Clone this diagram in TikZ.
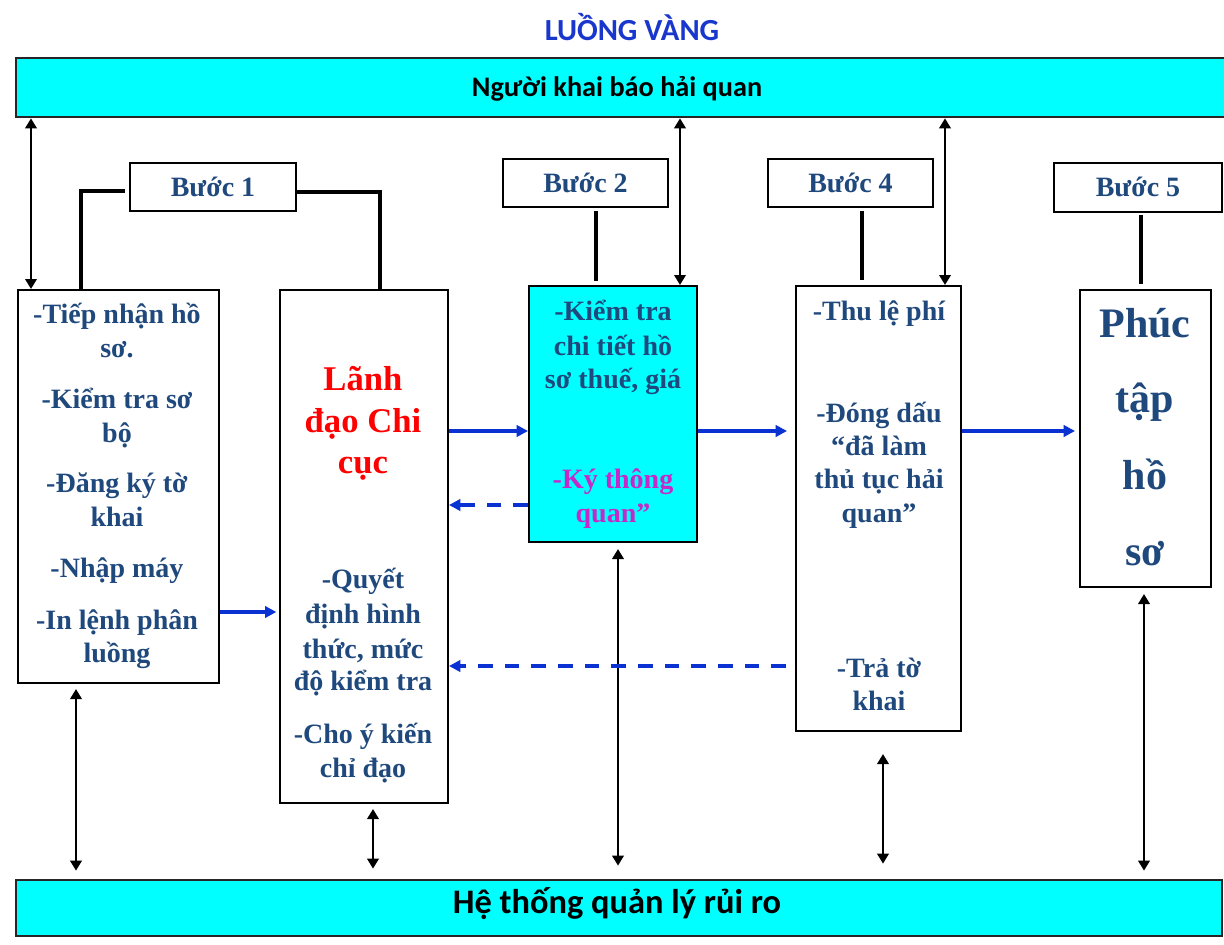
\documentclass[tikz,border=0pt]{standalone}
\usepackage{fontspec}
\setmainfont{Liberation Serif}
\newfontfamily\calib{Carlito}
\usetikzlibrary{arrows.meta}
\definecolor{navy}{RGB}{31,73,125}
\definecolor{flowblue}{RGB}{10,50,210}
\definecolor{titleblue}{RGB}{25,55,205}
\definecolor{barcyan}{RGB}{0,255,255}
\definecolor{kred}{RGB}{255,0,0}
\definecolor{kmag}{RGB}{200,40,200}
\begin{document}
\begin{tikzpicture}[x=0.75pt,y=-0.75pt,
  box/.style={draw=black, line width=1.5pt, inner sep=0pt},
  bar/.style={draw=black!85, line width=2pt, fill=barcyan, inner sep=0pt},
  steplabel/.style={box, font=\fontsize{21}{25}\selectfont\bfseries, text=navy, text height=13.9pt, text depth=0pt},
  txt/.style={anchor=base, inner sep=0pt, font=\fontsize{21}{25}\selectfont\bfseries, text=navy},
  redtxt/.style={txt, font=\fontsize{26}{31}\selectfont\bfseries, text=kred},
  magtxt/.style={txt, text=kmag},
  bigtxt/.style={txt, font=\fontsize{31.5}{38}\selectfont\bfseries},
  bartxt/.style={anchor=base, inner sep=0pt, text=black},
  bracket/.style={line width=2.6pt, draw=black},
  dbl/.style={line width=2.2pt, draw=black, {Triangle[length=7.5pt,width=8.5pt]}-{Triangle[length=7.5pt,width=8.5pt]}},
  flow/.style={line width=2.4pt, draw=flowblue, -{Triangle[length=8.5pt,width=8.5pt]}},
  backflow/.style={flow, dash pattern=on 11pt off 9pt}
]
\useasboundingbox[fill=white] (0,0) rectangle (1224,945);

% title
\node[anchor=base, inner sep=0pt, text=titleblue, font=\calib\fontsize{23}{27}\selectfont\bfseries] (title) at (632,41) {LUỒNG VÀNG};

% bars
\node[bar, minimum width=910.5pt, minimum height=44.25pt] (top) at (623,87.5) {};
\node[bartxt, font=\calib\fontsize{21.2}{25}\selectfont\bfseries] (toplbl) at (617,97) {Người khai báo hải quan};
\node[bar, minimum width=904.5pt, minimum height=42pt] (bot) at (619,908) {};
\node[bartxt, font=\calib\fontsize{25.8}{30}\selectfont\bfseries] (botlbl) at (617,913) {Hệ thống quản lý rủi ro};

% step labels
\node[steplabel, minimum width=124.5pt, minimum height=36pt] (b1) at (213,187) {Bước 1};
\node[steplabel, minimum width=123.75pt, minimum height=36pt] (b2) at (585.5,183) {Bước 2};
\node[steplabel, minimum width=123.75pt, minimum height=36pt] (b4) at (850.5,183) {Bước 4};
\node[steplabel, minimum width=126pt, minimum height=36.75pt] (b5) at (1138,187.5) {Bước 5};

% boxes
\node[box, minimum width=150.75pt, minimum height=294.75pt] (A) at (118.5,486.5) {};
\node[box, minimum width=126pt, minimum height=384.75pt] (B) at (364,546.5) {};
\node[box, fill=barcyan, minimum width=126pt, minimum height=192pt] (C) at (613,414) {};
\node[box, minimum width=123.75pt, minimum height=333.75pt] (D) at (878.5,508.5) {};
\node[box, minimum width=98.25pt, minimum height=222.75pt] (E) at (1145.5,438.5) {};

% texts box A
\foreach \t/\y [count=\i] in {{-Tiếp nhận hồ}/323, {sơ.}/357, {-Kiểm tra sơ}/408, {bộ}/442, {-Đăng ký tờ}/492, {khai}/526, {-Nhập máy}/577, {-In lệnh phân}/629, {luồng}/662}
  \node[txt] (a\i) at (117,\y) {\t};
% box B
\foreach \t/\y [count=\i] in {{Lãnh}/390, {đạo Chi}/432, {cục}/473}
  \node[redtxt] (br\i) at (363,\y) {\t};
\foreach \t/\y [count=\i] in {{-Quyết}/588, {định hình}/623, {thức, mức}/658, {độ kiểm tra}/690, {-Cho ý kiến}/743, {chỉ đạo}/777}
  \node[txt] (bn\i) at (363,\y) {\t};
% box C
\foreach \t/\y [count=\i] in {{-Kiểm tra}/320, {chi tiết hồ}/355, {sơ thuế, giá}/388}
  \node[txt] (cn\i) at (613,\y) {\t};
\foreach \t/\y [count=\i] in {{-Ký thông}/488, {quan”}/522}
  \node[magtxt] (cm\i) at (613,\y) {\t};
% box D
\foreach \t/\y [count=\i] in {{-Thu lệ phí}/320, {-Đóng dấu}/422, {“đã làm}/455, {thủ tục hải}/488, {quan”}/522, {-Trả tờ}/677, {khai}/710}
  \node[txt] (d\i) at (879,\y) {\t};
% box E
\foreach \t/\y [count=\i] in {{Phúc}/337, {tập}/412, {hồ}/489, {sơ}/565}
  \node[bigtxt] (e\i) at (1145,\y) {\t};

% brackets and step lines
\draw[bracket, shorten <=3pt] ([yshift=-3pt]b1.west) -| ([xshift=48pt]A.north west);
\draw[bracket] ([yshift=-3.75pt]b1.east) -| ([xshift=75.75pt]B.north west);
\draw[bracket, shorten <=2pt, shorten >=3pt] ([xshift=7.9pt]b2.south) -- ([xshift=7.9pt]b2.south |- C.north);
\draw[bracket, shorten <=2pt, shorten >=3.5pt] ([xshift=8.6pt]b4.south) -- ([xshift=8.6pt]b4.south |- D.north);
\draw[bracket, shorten <=1.5pt, shorten >=3.5pt] ([xshift=2.25pt]b5.south) -- ([xshift=2.25pt]b5.south |- E.north);

% vertical double arrows
\coordinate (v1) at (31,0);
\coordinate (v2) at (680,0);
\coordinate (v3) at (945,0);
\draw[dbl] (v1 |- top.south) -- (v1 |- A.north);
\draw[dbl] (v2 |- top.south) -- (v2 |- C.north);
\draw[dbl] (v3 |- top.south) -- (v3 |- D.north);

\coordinate (w1) at (76,0);
\coordinate (w2) at (373,0);
\coordinate (w3) at (618,0);
\coordinate (w4) at (883,0);
\coordinate (w5) at (1144,0);
\draw[dbl, shorten <=3.75pt, shorten >=6pt] (w1 |- A.south) -- (w1 |- bot.north);
\draw[dbl, shorten <=3.75pt, shorten >=7.5pt] (w2 |- B.south) -- (w2 |- bot.north);
\draw[dbl, shorten <=4.5pt, shorten >=9.75pt] (w3 |- C.south) -- (w3 |- bot.north);
\draw[dbl, shorten <=16.5pt, shorten >=11.25pt] (w4 |- D.south) -- (w4 |- bot.north);
\draw[dbl, shorten <=4.5pt, shorten >=6pt] (w5 |- E.south) -- (w5 |- bot.north);

% blue flows
\coordinate (h1) at (0,612);
\coordinate (h2) at (0,431);
\coordinate (h3) at (0,505);
\coordinate (h4) at (0,666);
\draw[flow, shorten >=2pt] (A.east |- h1) -- (B.west |- h1);
\draw[flow] (B.east |- h2) -- (C.west |- h2);
\draw[backflow] (C.west |- h3) -- (B.east |- h3);
\draw[flow, shorten >=6pt] (C.east |- h2) -- (D.west |- h2);
\draw[flow, shorten >=3pt] (D.east |- h2) -- (E.west |- h2);
\draw[backflow, shorten <=6.75pt] (D.west |- h4) -- (B.east |- h4);
\end{tikzpicture}
\end{document}
